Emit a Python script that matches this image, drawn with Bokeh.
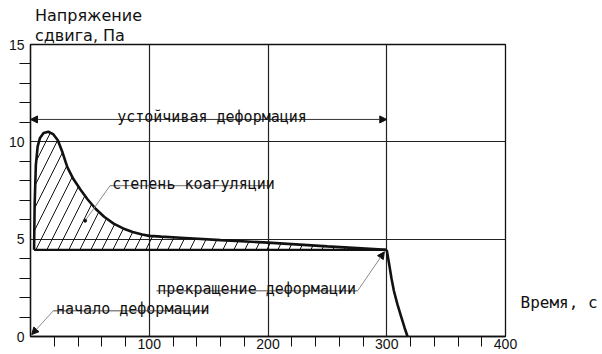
from bokeh.plotting import figure
from bokeh.models import Range1d, FixedTicker, Label, Arrow, NormalHead, Title, LinearAxis
from bokeh.embed import file_html
from bokeh.resources import INLINE

# ---- data ----
curve_x = [3, 3.5, 4.5, 6, 8, 11, 15, 19, 23, 27, 31, 36, 42, 48, 55, 62, 70, 78, 86, 94,
           100, 110, 130, 160, 200, 250, 300]
curve_y = [4.45, 6.8, 8.8, 9.75, 10.2, 10.45, 10.52, 10.4, 10.08, 9.45, 8.7, 8.1, 7.55, 7.05,
           6.55, 6.15, 5.8, 5.55, 5.37, 5.24, 5.17, 5.13, 5.06, 4.95, 4.82, 4.63, 4.45]
drop_x = [300, 302, 304, 306, 309, 312, 315, 317.5]
drop_y = [4.45, 3.72, 2.98, 2.35, 1.65, 1.05, 0.45, 0.0]
base_level = 4.45

x_ticks = [0, 100, 200, 300, 400]
x_minor = [20, 40, 60, 80, 120, 140, 160, 180, 220, 240, 260, 280, 320, 340, 360, 380]
y_ticks = [0, 5, 10, 15]
y_minor = [1, 2, 3, 4, 6, 7, 8, 9, 11, 12, 13, 14]
x_grid = [100, 200, 300]
y_grid = [5, 10]

y_title_1 = "Напряжение"
y_title_2 = "сдвига, Па"
x_title = "Время, с"
x_title_level = 1.75
txt_stable = "устойчивая деформация"
txt_coag = "степень коагуляции"
txt_stop = "прекращение деформации"
txt_start = "начало деформации"

TXT_FONT = "DejaVu Sans Mono"
TITLE_FONT = "DejaVu Sans"
NUM_FONT = "Liberation Sans"
INK = "#111111"
GREY = "#8a8a8a"

p = figure(width=602, height=354, x_range=Range1d(0, 400), y_range=Range1d(0, 15),
           output_backend="svg", toolbar_location=None, title=None,
           min_border_left=30, min_border_right=97, min_border_top=44, min_border_bottom=18)
p.background_fill_color = "white"
p.border_fill_color = "white"
p.outline_line_color = INK
p.outline_line_width = 1.3

# axes
xa = p.xaxis[0]
xa.ticker = FixedTicker(ticks=x_ticks, minor_ticks=x_minor)
xa.major_label_overrides = {0: ""}
xa.major_tick_out = 0
xa.major_tick_in = 0
xa.minor_tick_out = 10
xa.minor_tick_in = 0
xa.minor_tick_line_color = INK
xa.axis_line_color = INK
xa.axis_line_width = 1.3
xa.major_label_standoff = -8
xa.major_label_text_font = NUM_FONT
xa.major_label_text_font_size = "14px"
xa.major_label_text_color = INK

ya = p.yaxis[0]
ya.ticker = FixedTicker(ticks=y_ticks, minor_ticks=y_minor)
ya.major_tick_out = 0
ya.major_tick_in = 0
ya.minor_tick_out = 11
ya.minor_tick_in = 0
ya.minor_tick_line_color = INK
ya.axis_line_color = INK
ya.axis_line_width = 1.3
ya.major_label_standoff = -5
ya.major_label_text_font = NUM_FONT
ya.major_label_text_font_size = "14px"
ya.major_label_text_color = INK

# x-axis title placed to the right of the frame, as a label-only axis
ra = LinearAxis(ticker=FixedTicker(ticks=[x_title_level], minor_ticks=[]),
                major_label_overrides={x_title_level: x_title})
ra.axis_line_color = None
ra.major_tick_line_color = None
ra.minor_tick_line_color = None
ra.major_tick_out = 0
ra.major_tick_in = 0
ra.minor_tick_out = 0
ra.minor_tick_in = 0
ra.major_label_standoff = 15
ra.major_label_text_font = TXT_FONT
ra.major_label_text_font_size = "16px"
ra.major_label_text_color = INK
p.add_layout(ra, "right")

# y-axis title above the frame (two lines)
p.add_layout(Title(text=y_title_2, align="left", offset=4.5, standoff=0,
                   text_font=TITLE_FONT, text_font_size="16px", text_font_style="normal",
                   text_color=INK), "above")
p.add_layout(Title(text=y_title_1, align="left", offset=4.5, standoff=-2,
                   text_font=TITLE_FONT, text_font_size="16px", text_font_style="normal",
                   text_color=INK), "above")

p.xgrid[0].ticker = FixedTicker(ticks=x_grid)
p.ygrid[0].ticker = FixedTicker(ticks=y_grid)
for g in (p.xgrid[0], p.ygrid[0]):
    g.grid_line_color = "#222222"
    g.grid_line_width = 1.2

# hatched area between curve and base level
patch_x = curve_x + [curve_x[-1], curve_x[0]]
patch_y = curve_y + [base_level, base_level]
p.patch(patch_x, patch_y, fill_color=None, line_color=None,
        hatch_pattern="/", hatch_color=INK, hatch_scale=22, hatch_weight=1)

# base level and curve
p.line([curve_x[0], curve_x[-1]], [base_level, base_level], line_color=INK, line_width=2.2)
p.line(curve_x, curve_y, line_color=INK, line_width=2.6)
p.line(drop_x, drop_y, line_color=INK, line_width=2.6)

def head():
    return NormalHead(size=7, fill_color=INK, line_color=INK, line_width=1)

# устойчивая деформация (double arrow)
p.add_layout(Arrow(start=head(), end=head(), x_start=0, y_start=11.15, x_end=300, y_end=11.15,
                   line_color="#333333", line_width=1))
p.add_layout(Label(x=73, y=11.15, text=txt_stable, text_font=TXT_FONT, text_font_size="15px",
                   text_color=INK, text_baseline="alphabetic", y_offset=2))

# степень коагуляции
p.line([67, 202.7], [7.75, 7.75], line_color=GREY, line_width=1.4)
p.line([67, 46], [7.75, 5.95], line_color=GREY, line_width=1)
p.scatter([46], [5.95], size=3, color=INK)
p.add_layout(Label(x=68.8, y=7.75, text=txt_coag, text_font=TXT_FONT, text_font_size="15px",
                   text_color=INK, text_baseline="alphabetic", y_offset=2))

# прекращение деформации
p.line([106, 275.5], [2.35, 2.35], line_color=GREY, line_width=1.4)
p.add_layout(Arrow(end=head(), x_start=275.5, y_start=2.35, x_end=298, y_end=4.35,
                   line_color=GREY, line_width=1))
p.add_layout(Label(x=106.8, y=2.35, text=txt_stop, text_font=TXT_FONT, text_font_size="15px",
                   text_color=INK, text_baseline="alphabetic", y_offset=2))

# начало деформации
p.line([19.2, 148.7], [1.32, 1.32], line_color=GREY, line_width=1.4)
p.add_layout(Arrow(end=head(), x_start=19.2, y_start=1.32, x_end=1, y_end=0.1,
                   line_color=GREY, line_width=1))
p.add_layout(Label(x=21.5, y=1.32, text=txt_start, text_font=TXT_FONT, text_font_size="15px",
                   text_color=INK, text_baseline="alphabetic", y_offset=2))

open("out.html", "w").write(file_html(p, INLINE))
